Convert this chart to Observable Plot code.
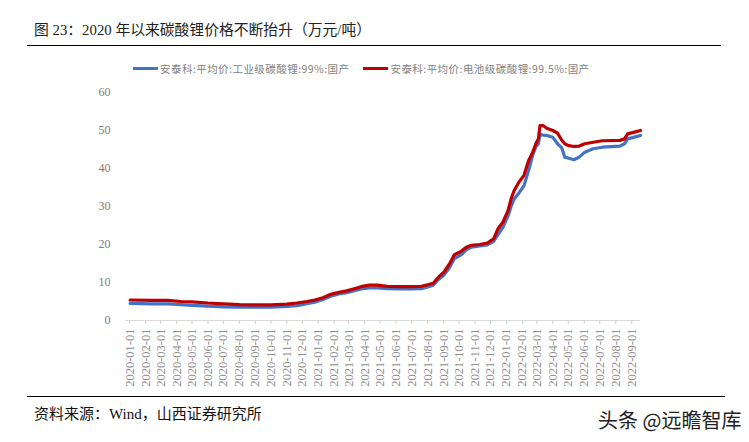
<!DOCTYPE html>
<html>
<head>
<meta charset="utf-8">
<script src="https://cdn.jsdelivr.net/npm/d3@7"></script>
<script src="https://cdn.jsdelivr.net/npm/@observablehq/plot@0.6"></script>
<style>
  body { margin: 0; background: #fff; }
  #wrap { position: relative; width: 749px; height: 442px; background: #fff; overflow: hidden; }
  .abs { position: absolute; white-space: nowrap; }
  .title { left: 34px; top: 18px; font-size: 14.8px; color: #222; font-family: "Liberation Serif", "Noto Sans CJK SC", serif; }
  .legend { top: 61px; font-size: 10.5px; letter-spacing: 0.45px; color: #7f7f7f; font-family: "Noto Sans CJK SC", sans-serif; display: flex; align-items: center; }
  .swatch { display: inline-block; width: 25px; height: 3px; margin-right: 2px; }
  .foot { left: 34px; top: 402px; font-size: 15px; color: #111; font-family: "Liberation Serif", "Noto Sans CJK SC", serif; }
  .mark { left: 598px; top: 405px; font-size: 20px; color: #222; font-family: "Noto Sans CJK SC", sans-serif; }
</style>
</head>
<body>
<div id="wrap">
  <div class="abs title">图 23：2020 年以来碳酸锂价格不断抬升（万元/吨）</div>
  <div class="abs" style="left:27px;top:45px;width:694px;border-top:1.5px solid #000"></div>
  <div class="abs legend" id="legend"></div>
  <div class="abs" id="chart" style="left:0;top:80px"></div>
  <div class="abs" style="left:27px;top:396px;width:698px;border-top:1.5px solid #000"></div>
  <div class="abs foot">资料来源：Wind，山西证券研究所</div>
  <div class="abs mark">头条 @远瞻智库</div>
</div>
<script>
const seriesNames = ["安泰科:平均价:工业级碳酸锂:99%:国产", "安泰科:平均价:电池级碳酸锂:99.5%:国产"];
const seriesColors = ["#4472C4", "#C00000"];

const dates = [
  "2020-01-02","2020-02-15","2020-03-15","2020-04-10","2020-05-01","2020-06-01","2020-07-01","2020-08-01",
  "2020-09-01","2020-10-01","2020-11-01","2020-11-20","2020-12-10","2020-12-25","2021-01-10","2021-01-25",
  "2021-02-10","2021-02-25","2021-03-10","2021-03-25","2021-04-10","2021-04-25","2021-05-15","2021-06-10",
  "2021-07-01","2021-07-20","2021-08-01","2021-08-12","2021-08-22","2021-09-02","2021-09-12","2021-09-22",
  "2021-10-05","2021-10-15","2021-10-25","2021-11-10","2021-11-25","2021-12-07","2021-12-15","2021-12-25",
  "2022-01-04","2022-01-10","2022-01-16","2022-01-25","2022-02-04","2022-02-13","2022-02-21","2022-02-27",
  "2022-03-04","2022-03-07","2022-03-13","2022-03-20","2022-04-01","2022-04-10","2022-04-18","2022-04-24",
  "2022-05-02","2022-05-12","2022-05-22","2022-06-02","2022-06-18","2022-07-06","2022-08-09","2022-08-18",
  "2022-08-24","2022-09-10","2022-09-18"
];
const industrial = [
  4.5, 4.4, 4.4, 4.2, 4.0, 3.8, 3.6, 3.5,
  3.5, 3.5, 3.7, 3.9, 4.4, 4.8, 5.5, 6.4,
  7.0, 7.3, 7.8, 8.3, 8.6, 8.6, 8.4, 8.3,
  8.3, 8.4, 8.8, 9.3, 10.8, 12.0, 13.8, 16.3,
  17.3, 18.6, 19.3, 19.6, 19.9, 20.8, 22.5, 24.5,
  27.5, 30.0, 32.0, 33.5, 35.5, 39.5, 43.5, 45.8,
  46.5, 49.0, 48.8, 48.7, 48.2, 46.5, 45.5, 43.0,
  42.7, 42.3, 43.0, 44.3, 45.2, 45.6, 45.9, 46.5,
  47.8, 48.4, 48.7
];
const battery = [
  5.4, 5.3, 5.3, 5.0, 4.9, 4.6, 4.4, 4.2,
  4.1, 4.1, 4.3, 4.6, 5.0, 5.4, 6.0, 6.9,
  7.4, 7.8, 8.3, 8.9, 9.3, 9.3, 9.0, 8.9,
  8.9, 9.0, 9.4, 9.8, 11.4, 12.8, 14.8, 17.3,
  18.2, 19.3, 19.8, 20.0, 20.4, 21.5, 24.0, 25.9,
  28.9, 32.0, 34.2, 36.4, 38.2, 42.1, 44.3, 46.5,
  47.8, 51.3, 51.3, 50.6, 50.0, 49.3, 47.5, 46.5,
  46.0, 45.8, 45.9, 46.5, 46.9, 47.3, 47.4, 47.8,
  49.1, 49.7, 50.0
];
const yTicks = [0, 10, 20, 30, 40, 50, 60];
const xTickLabels = [
  "2020-01-01","2020-02-01","2020-03-01","2020-04-01","2020-05-01","2020-06-01","2020-07-01","2020-08-01",
  "2020-09-01","2020-10-01","2020-11-01","2020-12-01","2021-01-01","2021-02-01","2021-03-01","2021-04-01",
  "2021-05-01","2021-06-01","2021-07-01","2021-08-01","2021-09-01","2021-10-01","2021-11-01","2021-12-01",
  "2022-01-01","2022-02-01","2022-03-01","2022-04-01","2022-05-01","2022-06-01","2022-07-01","2022-08-01",
  "2022-09-01"
];

// legend
const legend = document.getElementById("legend");
legend.style.left = "133px";
seriesNames.forEach((name, i) => {
  const item = document.createElement("span");
  item.style.display = "inline-flex";
  item.style.alignItems = "center";
  item.style.marginRight = i === 0 ? "14px" : "0";
  const sw = document.createElement("span");
  sw.className = "swatch";
  sw.style.background = seriesColors[i];
  item.appendChild(sw);
  item.appendChild(document.createTextNode(name));
  legend.appendChild(item);
});

const data = [];
dates.forEach((d, i) => {
  data.push({date: new Date(d), value: industrial[i], series: seriesNames[0]});
});
dates.forEach((d, i) => {
  data.push({date: new Date(d), value: battery[i], series: seriesNames[1]});
});

const tickDates = xTickLabels.map(s => new Date(s));

const chart = Plot.plot({
  width: 749,
  height: 310,
  marginTop: 12,
  marginBottom: 70,
  marginLeft: 125,
  marginRight: 109,
  style: {fontFamily: "'Liberation Serif', serif", fontSize: "12px", color: "#7a7a7a", background: "transparent"},
  x: {type: "utc", domain: [new Date("2019-12-24"), new Date("2022-09-18")]},
  y: {domain: [0, 60]},
  color: {domain: seriesNames, range: seriesColors},
  marks: [
    Plot.ruleY([0], {stroke: "#d9d9d9", strokeWidth: 1}),
    Plot.axisY({ticks: yTicks, tickSize: 0, tickPadding: 15, fill: "#7a7a7a", label: null}),
    Plot.axisX({
      ticks: tickDates,
      tickFormat: (d) => xTickLabels[tickDates.findIndex(t => +t === +d)],
      tickRotate: -90,
      tickSize: 4,
      tickPadding: 4,
      stroke: "#d0d0d0",
      fill: "#8f8f8f",
      fontSize: 12.5,
      label: null
    }),
    Plot.line(data, {x: "date", y: "value", z: "series", stroke: "series", strokeWidth: 3.2, curve: "linear"})
  ]
});
document.getElementById("chart").appendChild(chart);
</script>
</body>
</html>
